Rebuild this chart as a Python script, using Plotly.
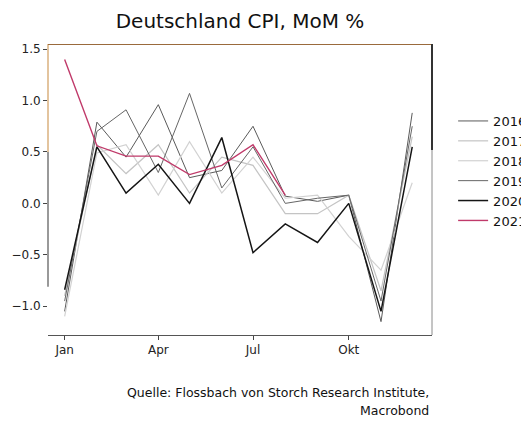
import plotly.graph_objects as go

months = ["2021-01-01", "2021-02-01", "2021-03-01", "2021-04-01", "2021-05-01", "2021-06-01",
          "2021-07-01", "2021-08-01", "2021-09-01", "2021-10-01", "2021-11-01", "2021-12-01"]

v2016 = [-1.05, 0.79, 0.45, 0.96, 0.25, 0.32, 0.75, 0.07, 0.02, 0.08, -1.15, 0.88]
v2017 = [-0.90, 0.57, 0.29, 0.57, 0.10, 0.45, 0.37, -0.10, -0.10, 0.08, -0.85, 0.65]
v2018 = [-1.10, 0.49, 0.57, 0.08, 0.60, 0.10, 0.45, 0.05, 0.08, -0.32, -0.65, 0.20]
v2019 = [-0.95, 0.70, 0.91, 0.30, 1.07, 0.15, 0.55, 0.00, 0.05, 0.08, -0.95, 0.75]
v2020 = [-0.84, 0.55, 0.10, 0.38, 0.00, 0.64, -0.48, -0.20, -0.38, 0.00, -1.05, 0.55]
v2021 = [1.40, 0.56, 0.46, 0.46, 0.28, 0.37, 0.57, 0.08]

tick_dates = ["2021-01-01", "2021-04-01", "2021-07-01", "2021-10-01"]
tick_text = ["Jan", "Apr", "Jul", "Okt"]
y_ticks = [-1.0, -0.5, 0.0, 0.5, 1.0, 1.5]

series = [
    ("2016", v2016, "#5a5a5a", 1),
    ("2017", v2017, "#c4c4c4", 1.2),
    ("2018", v2018, "#d2d2d2", 1.2),
    ("2019", v2019, "#666666", 1),
    ("2020", v2020, "#151515", 1.5),
    ("2021", v2021, "#c03a6a", 1.4),
]

FONT = "DejaVu Sans, Verdana, sans-serif"

fig = go.Figure()
for name, vals, color, width in series:
    fig.add_trace(
        go.Scatter(
            x=months[: len(vals)],
            y=vals,
            mode="lines",
            name=name,
            line=dict(color=color, width=width),
        )
    )

# page body has an 8px margin, so the figure is 8px smaller than the window
fig.update_layout(
    width=521,
    height=413,
    margin=dict(l=40, r=97, t=36, b=86, autoexpand=False),
    paper_bgcolor="white",
    plot_bgcolor="white",
    font=dict(family=FONT, color="#222", size=12),
    title=dict(
        text="Deutschland CPI, MoM %",
        x=232 / 521,
        xanchor="center",
        y=1 - 13 / 413,
        yanchor="middle",
        font=dict(size=20, color="#111"),
    ),
    legend=dict(
        x=1.055,
        xanchor="left",
        y=0.5636,
        yanchor="middle",
        font=dict(size=13, color="#111"),
        tracegroupgap=0,
        itemwidth=30,
        bgcolor="rgba(0,0,0,0)",
    ),
    xaxis=dict(
        type="date",
        range=["2020-12-16", "2021-12-20"],
        tickvals=tick_dates,
        ticktext=tick_text,
        ticks="outside",
        ticklen=4,
        tickcolor="#444",
        showgrid=False,
        zeroline=False,
        showline=True,
        linecolor="#555",
        automargin=False,
    ),
    yaxis=dict(
        range=[-1.28, 1.55],
        tickvals=y_ticks,
        tickformat=".1f",
        ticks="outside",
        ticklen=4,
        tickcolor="#444",
        showgrid=False,
        zeroline=False,
        showline=False,
        automargin=False,
    ),
)

# frame pieces, coloured like the original
frame = [
    (0, 0, 1.55, -0.81, "#555555", 1.2),
    (0, 0, 1.55, 0.5, "#fcd3a0", 1.5),
    (0, 1, 1.55, 1.55, "#9a6a3c", 2),
    (1, 1, 1.55, 0.52, "#333333", 2),
    (1, 1, 0.52, -1.28, "#8a8a8a", 1),
]
for x0, x1, y0, y1, c, w in frame:
    fig.add_shape(type="line", xref="paper", yref="y", x0=x0, x1=x1, y0=y0, y1=y1,
                  line=dict(color=c, width=w))

caption = ["Quelle: Flossbach von Storch Research Institute,", "Macrobond"]
for line, ypos in zip(caption, [-0.196, -0.261]):
    fig.add_annotation(
        text=line,
        xref="paper",
        yref="paper",
        x=0.997,
        y=ypos,
        xanchor="right",
        yanchor="middle",
        showarrow=False,
        font=dict(size=12.5, color="#111"),
    )

fig.write_html("out.html")
